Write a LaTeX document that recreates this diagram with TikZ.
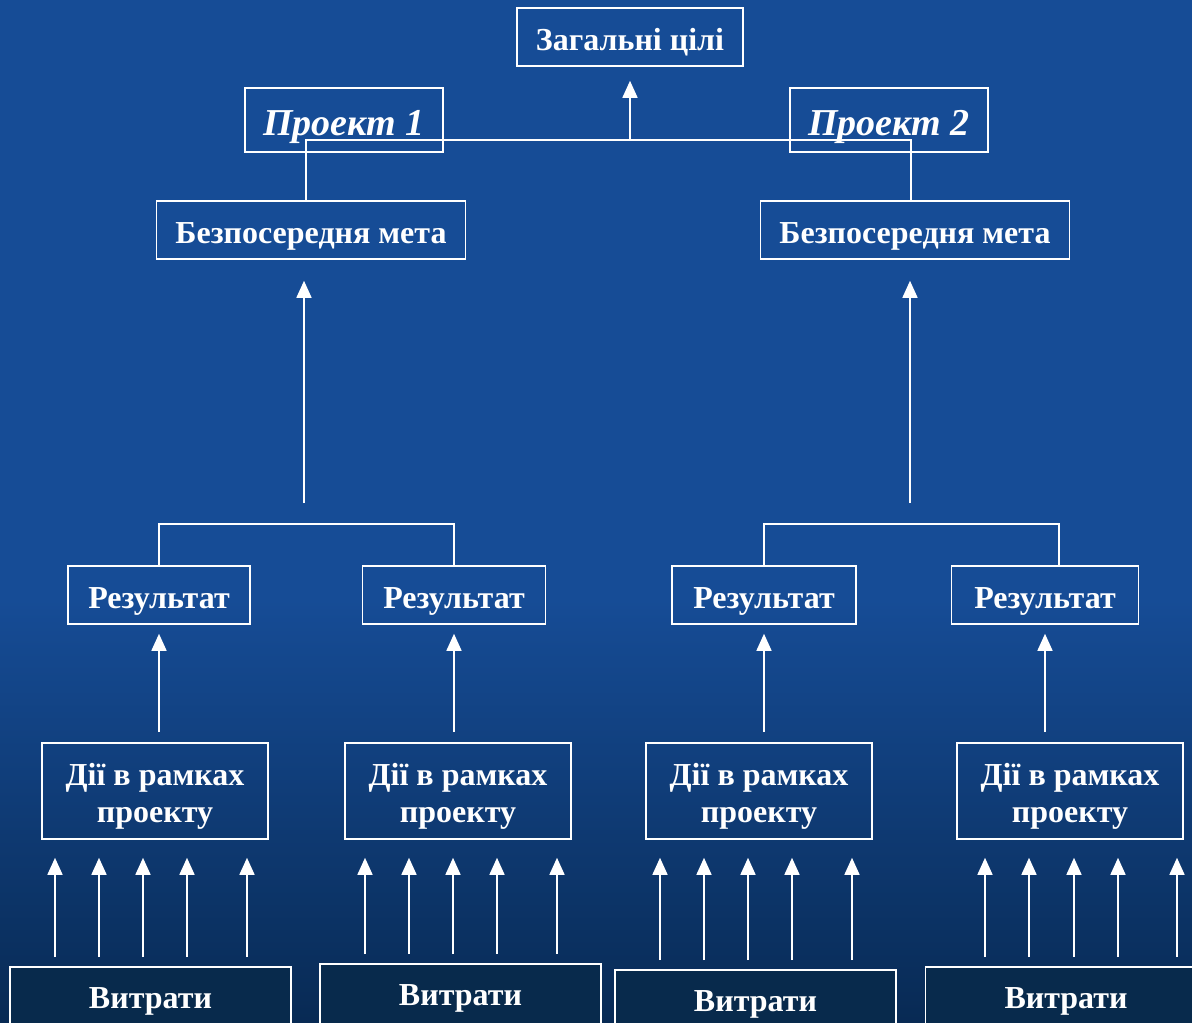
\documentclass[tikz,border=0pt]{standalone}
\usepackage{fontspec}
\setmainfont{Liberation Serif}
\usetikzlibrary{arrows.meta}
\definecolor{bgtop}{RGB}{22,76,150}
\definecolor{bgbot}{RGB}{8,42,84}
\definecolor{costfill}{RGB}{8,42,76}
\tikzset{
	box/.style={draw=white,line width=1.6pt,text=white,inner sep=0pt,align=center,
		text height=26pt,text depth=0pt,
		font=\bfseries\fontsize{32}{37}\selectfont},
	projbox/.style={box,minimum width=198,minimum height=64,text height=30pt,
		font=\bfseries\itshape\fontsize{38}{44}\selectfont},
	resbox/.style={box,minimum height=58},
	actbox/.style={box,minimum width=226,minimum height=96,text height=62pt},
	costbox/.style={box,fill=costfill,minimum width=281,minimum height=62,text height=22pt,anchor=north},
	conn/.style={draw=white,line width=1.6pt},
	arr/.style={conn,-{Triangle[width=15pt,length=17pt]}}
}

\begin{document}
\begin{tikzpicture}[x=1pt,y=-1pt]
	\clip (0,0) rectangle (1192,1023);
	%BACKGROUND
	\fill[bgtop] (0,0) rectangle (1192,600);
	\shade[top color=bgtop,bottom color=bgbot] (0,599) rectangle (1192,1023);
	
	%GOALS
	\node[box,minimum width=226,minimum height=58] (goal) at (630,37) {Загальні цілі};
	\node[projbox] (p1) at (344,120) {Проект 1};
	\node[projbox] (p2) at (889,120) {Проект 2};
	\node[box,minimum width=309,minimum height=58] (m1) at (311,230) {Безпосередня мета};
	\node[box,minimum width=309,minimum height=58] (m2) at (915,230) {Безпосередня мета};
	
	%RESULTS AND ACTIONS
	\node[resbox,minimum width=182] (r1) at (159,595) {Результат};
	\node[resbox,minimum width=183] (r2) at (454,595) {Результат};
	\node[resbox,minimum width=184] (r3) at (764,595) {Результат};
	\node[resbox,minimum width=187] (r4) at (1045,595) {Результат};
	\node[actbox] (d1) at (155,791) {Дії в рамках\\проекту};
	\node[actbox] (d2) at (458,791) {Дії в рамках\\проекту};
	\node[actbox] (d3) at (759,791) {Дії в рамках\\проекту};
	\node[actbox] (d4) at (1070,791) {Дії в рамках\\проекту};
	
	%COSTS
	\node[costbox] (v1) at (150.5,966) {Витрати};
	\node[costbox] (v2) at (460.5,963) {Витрати};
	\node[costbox] (v3) at (755.5,969) {Витрати};
	\node[costbox] (v4) at (1066,966) {Витрати};
	
	%UPPER CONNECTORS
	\coordinate (hub) at (630,140);
	\coordinate (l1) at (306,140);
	\coordinate (l2) at (911,140);
	\draw[conn] (m1.north -| l1) -- (l1) -- (l2) -- (m2.north -| l2);
	\draw[arr,shorten >=14pt] (hub) -- (goal.south);
	
	%BRACKETS
	\coordinate (j1) at (304,524);
	\coordinate (j2) at (910,524);
	\coordinate (k4) at (1059,524);
	\draw[conn] (r1.north) -- (r1.north |- j1) -- (r2.north |- j1) -- (r2.north);
	\draw[conn] (r3.north) -- (r3.north |- j2) -- (k4) -- (r4.north -| k4);
	\draw[arr,shorten <=21pt,shorten >=21pt] (j1) -- (j1 |- m1.south);
	\draw[arr,shorten <=21pt,shorten >=21pt] (j2) -- (j2 |- m2.south);
	
	\foreach \i in {1,2,3,4}{
		\draw[arr,shorten <=10pt,shorten >=9pt] (d\i.north -| r\i.south) -- (r\i.south);
	}
	
	%COST ARROWS
	\foreach \i/\xs in {1/{55,99,143,187,247},2/{365,409,453,497,557},3/{660,704,748,792,852},4/{985,1029,1074,1118,1177}}{
		\foreach \x in \xs{
			\draw[arr,shorten <=9pt,shorten >=18pt] (\x,0 |- v\i.north) -- (\x,0 |- d\i.south);
		}
	}
\end{tikzpicture}
\end{document}
